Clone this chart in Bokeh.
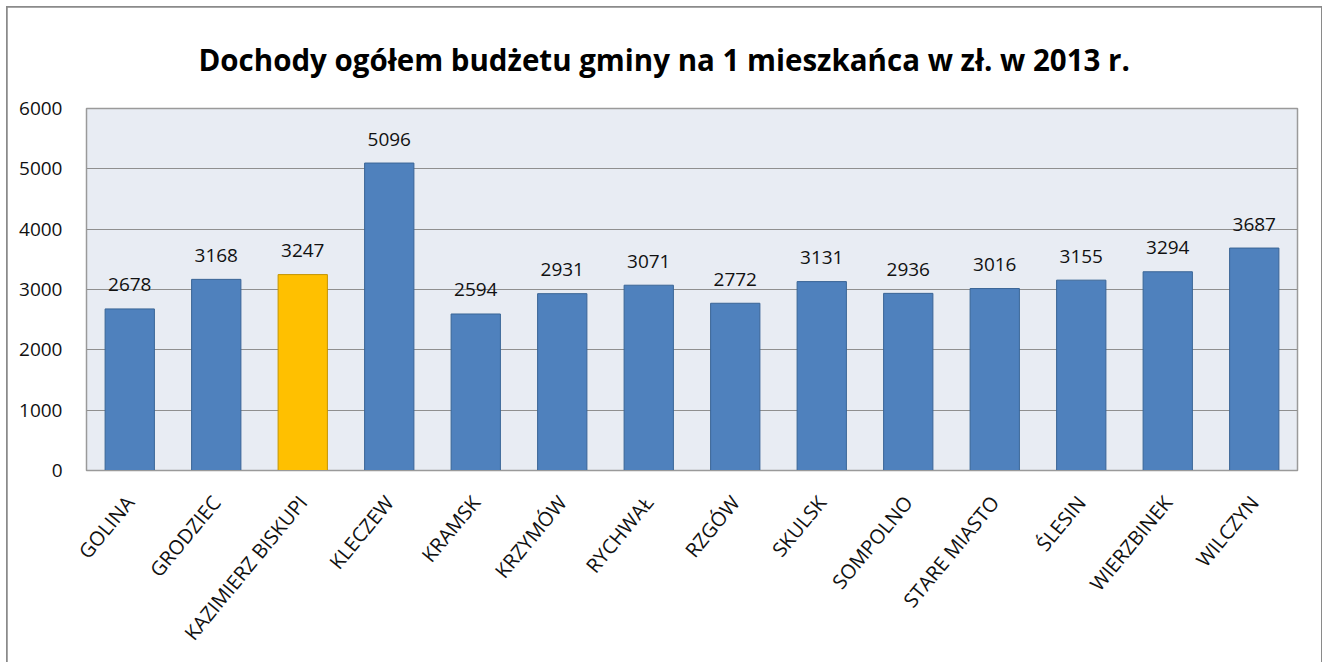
import math
from bokeh.plotting import figure
from bokeh.models import ColumnDataSource, SingleIntervalTicker, NumeralTickFormatter, Title
from bokeh.core.properties import value
from bokeh.embed import file_html
from bokeh.resources import INLINE

gminy = ["GOLINA", "GRODZIEC", "KAZIMIERZ BISKUPI", "KLECZEW", "KRAMSK", "KRZYMÓW",
         "RYCHWAŁ", "RZGÓW", "SKULSK", "SOMPOLNO", "STARE MIASTO", "ŚLESIN",
         "WIERZBINEK", "WILCZYN"]
dochody = [2678, 3168, 3247, 5096, 2594, 2931, 3071, 2772, 3131, 2936, 3016, 3155, 3294, 3687]
highlight = "KAZIMIERZ BISKUPI"
title_text = "Dochody ogółem budżetu gminy na 1 mieszkańca w zł. w 2013 r."

colors = ["#FFC000" if g == highlight else "#4F81BD" for g in gminy]
lines = ["#C49400" if g == highlight else "#3A6596" for g in gminy]
src = ColumnDataSource(dict(x=gminy, top=dochody, color=colors, line=lines,
                            label=[str(v) for v in dochody]))

FONT = "Open Sans"

p = figure(x_range=gminy, y_range=(0, 6000), width=1314, height=655,
           output_backend="svg", toolbar_location=None,
           min_border_left=79, min_border_right=24, min_border_top=101,
           min_border_bottom=192)
p.styles = {"margin": "7px 0 0 7px", "outline": "2px solid #8a8a8a", "outline-offset": "-1px"}
p.background_fill_color = "#E8ECF3"
p.border_fill_color = "white"
p.outline_line_color = "#9a9a9a"
p.outline_line_width = 1.5

p.vbar(x="x", top="top", width=0.57, source=src, fill_color="color",
       line_color="line", line_width=1)
p.text(x="x", y="top", text="label", source=src, y_offset=-24,
       text_align="center", text_baseline="alphabetic",
       text_font=value(FONT), text_font_size="19px", text_color="#111111")

t = Title(text=title_text, align="left", text_font=FONT,
          text_font_size="29.5px", text_font_style="bold", text_color="black",
          offset=112, standoff=57)
p.add_layout(t, "above")

p.ygrid.grid_line_color = "#8f8f8f"
p.ygrid.grid_line_width = 1
p.xgrid.grid_line_color = None

p.yaxis.ticker = SingleIntervalTicker(interval=1000)
p.yaxis.formatter = NumeralTickFormatter(format="0")
p.yaxis.axis_line_color = None
p.yaxis.major_tick_line_color = None
p.yaxis.minor_tick_line_color = None
p.yaxis.major_label_text_font = FONT
p.yaxis.major_label_text_font_size = "19px"
p.yaxis.major_label_text_color = "#111111"
p.yaxis.major_label_standoff = 18

p.xaxis.axis_line_color = "#9a9a9a"
p.xaxis.major_tick_line_color = None
p.xaxis.minor_tick_line_color = None
p.xaxis.major_label_orientation = 0.88
p.xaxis.major_label_text_font = FONT
p.xaxis.major_label_text_font_size = "20px"
p.xaxis.major_label_text_color = "#111111"
p.xaxis.major_label_standoff = 22
p.x_range.range_padding = 0

open("out.html", "w").write(file_html(p, INLINE))
